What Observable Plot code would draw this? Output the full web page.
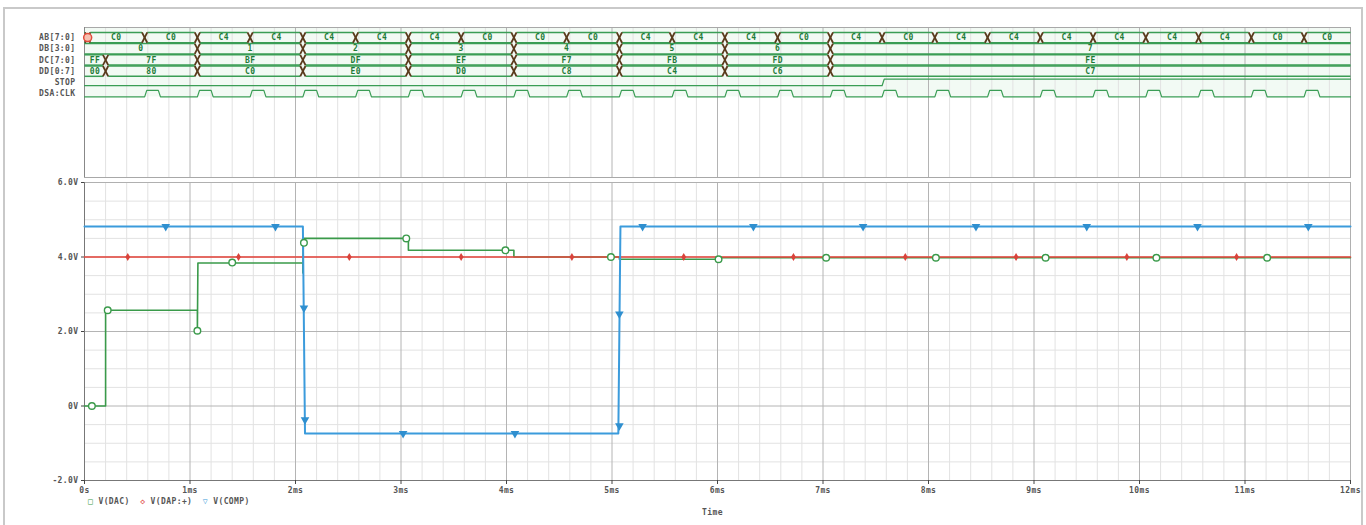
<!DOCTYPE html>
<html>
<head>
<meta charset="utf-8">
<script src="https://cdn.jsdelivr.net/npm/d3@7"></script>
<script src="https://cdn.jsdelivr.net/npm/@observablehq/plot@0.6"></script>
<style>
  html, body { margin: 0; padding: 0; background: #fff; }
  body { width: 1366px; height: 525px; overflow: hidden; position: relative; font-family: "DejaVu Sans Mono", "Liberation Mono", monospace; }
  #border { position: absolute; left: 3px; top: 7px; width: 1360px; height: 540px; border: 2px solid #c9c9c9; box-sizing: border-box; }
  #digital { position: absolute; left: 0; top: 0; }
  #analog { position: absolute; left: 0; top: 170px; }
  #legend { position: absolute; left: 88px; top: 497px; font-size: 8px; color: #555; letter-spacing: 0.4px; white-space: pre; font-weight: bold; }
  #legend .g { color: #3a9a4a; } #legend .r { color: #e0433c; } #legend .b { color: #3a9ad9; }
  #timeLabel { position: absolute; left: 702px; top: 508px; font-size: 8px; color: #555; letter-spacing: 0.4px; font-weight: bold; }
  svg text { letter-spacing: 0.4px; }
</style>
</head>
<body>
<div id="border"></div>
<div id="digital"></div>
<div id="analog"></div>
<div id="legend"><span class="g">□</span> V(DAC)  <span class="r">◇</span> V(DAP:+)  <span class="b">▽</span> V(COMP)</div>
<div id="timeLabel">Time</div>
<script>
// ---------- axis ticks ----------
const timeTicks = [0, 1, 2, 3, 4, 5, 6, 7, 8, 9, 10, 11, 12];
const timeTickLabels = ["0s", "1ms", "2ms", "3ms", "4ms", "5ms", "6ms", "7ms", "8ms", "9ms", "10ms", "11ms", "12ms"];
const voltTicks = [6, 4, 2, 0, -2];
const voltTickLabels = ["6.0V", "4.0V", "2.0V", "0V", "-2.0V"];

// ---------- digital signals ----------
const signals = ["AB[7:0]", "DB[3:0]", "DC[7:0]", "DD[0:7]", "STOP", "DSA:CLK"];

const abEdges = [0, 0.03, 0.57, 1.07, 1.57, 2.07, 2.57, 3.07, 3.57, 4.07, 4.57, 5.07, 5.57, 6.07, 6.57, 7.07, 7.56, 8.06, 8.56, 9.06, 9.56, 10.06, 10.56, 11.06, 11.56, 12];
const abValues = ["", "C0", "C0", "C4", "C4", "C4", "C4", "C4", "C0", "C0", "C0", "C4", "C4", "C4", "C0", "C4", "C0", "C4", "C4", "C4", "C4", "C4", "C4", "C0", "C0"];

const dbEdges = [0, 1.07, 2.07, 3.07, 4.07, 5.07, 6.07, 7.07, 12];
const dbValues = ["0", "1", "2", "3", "4", "5", "6", "7"];

const dcEdges = [0, 0.2, 1.07, 2.07, 3.07, 4.07, 5.07, 6.07, 7.07, 12];
const dcValues = ["FF", "7F", "BF", "DF", "EF", "F7", "FB", "FD", "FE"];

const ddEdges = [0, 0.2, 1.07, 2.07, 3.07, 4.07, 5.07, 6.07, 7.07, 12];
const ddValues = ["00", "80", "C0", "E0", "D0", "C8", "C4", "C6", "C7"];

const stopEdges = [0, 7.56, 12];
const stopLevels = [0, 1];

const clkRises = [0.57, 1.07, 1.57, 2.07, 2.57, 3.07, 3.57, 4.07, 4.57, 5.07, 5.57, 6.07, 6.57, 7.07, 7.56, 8.06, 8.56, 9.06, 9.56, 10.06, 10.56, 11.06, 11.56];
const clkHighWidth = 0.13;

// ---------- analog traces ----------
const dacTime = [0, 0.2, 0.2, 1.07, 1.07, 1.075, 2.07, 2.07, 2.075, 3.07, 3.07, 4.07, 4.07, 5.07, 5.07, 6.03, 6.03, 12];
const dacVolt = [0, 0, 2.57, 2.57, 2.02, 3.84, 3.84, 3.57, 4.5, 4.5, 4.18, 4.18, 4.0, 4.0, 3.94, 3.94, 3.98, 3.98];
const dacMarkTime = [0.07, 0.22, 1.07, 1.4, 2.08, 3.05, 3.99, 4.99, 6.01, 7.03, 8.07, 9.11, 10.16, 11.21];
const dacMarkVolt = [0, 2.57, 2.02, 3.85, 4.38, 4.5, 4.18, 4.0, 3.94, 3.98, 3.98, 3.98, 3.98, 3.98];

const inTime = [0, 12];
const inVolt = [4.0, 4.0];
const inMarkTime = [0.41, 1.46, 2.51, 3.57, 4.62, 5.68, 6.72, 7.78, 8.83, 9.88, 10.92];
const inMarkVolt = [4, 4, 4, 4, 4, 4, 4, 4, 4, 4, 4];

const compTime = [0, 2.07, 2.09, 5.06, 5.08, 12];
const compVolt = [4.82, 4.82, -0.74, -0.74, 4.82, 4.82];
const compMarkTime = [0.77, 1.81, 2.08, 2.09, 3.02, 4.08, 5.07, 5.07, 5.29, 6.34, 7.38, 8.45, 9.5, 10.55, 11.6];
const compMarkVolt = [4.82, 4.82, 2.63, -0.37, -0.74, -0.74, -0.53, 2.47, 4.82, 4.82, 4.82, 4.82, 4.82, 4.82, 4.82];

// ---------- helpers ----------
const FONT = "DejaVu Sans Mono, Liberation Mono, monospace";
const BUS_GREEN = "#3a9d55";
const TEXT_GREEN = "#1f7a38";
const X_DARK = "#5a3a1c";
const xDomain = [timeTicks[0], timeTicks[timeTicks.length - 1]];
const rowDomain = [-0.9, 12.5];
const halfBus = 0.46, xHalf = 0.025;
const lowOff = 0.3, highOff = -0.28;

function bus(name, edges, values) {
  const row = signals.indexOf(name);
  const lines = [], xs = [], labels = [];
  const n = edges.length - 1;
  for (let k = 0; k < n; k++) {
    const a = edges[k] + (k > 0 ? xHalf : 0);
    const b = edges[k + 1] - (k < n - 1 ? xHalf : 0);
    lines.push({x1: a, x2: b, y1: row - halfBus, y2: row - halfBus});
    lines.push({x1: a, x2: b, y1: row + halfBus, y2: row + halfBus});
    if (values[k]) labels.push({x: (edges[k] + edges[k + 1]) / 2, y: row, text: values[k]});
    if (k > 0) {
      xs.push({x1: edges[k] - xHalf, x2: edges[k] + xHalf, y1: row - halfBus, y2: row + halfBus});
      xs.push({x1: edges[k] - xHalf, x2: edges[k] + xHalf, y1: row + halfBus, y2: row - halfBus});
    }
  }
  return {lines, xs, labels};
}

const buses = [
  bus("AB[7:0]", abEdges, abValues),
  bus("DB[3:0]", dbEdges, dbValues),
  bus("DC[7:0]", dcEdges, dcValues),
  bus("DD[0:7]", ddEdges, ddValues)
];
const busLines = buses.flatMap(b => b.lines);
const busXs = buses.flatMap(b => b.xs);
const busLabels = buses.flatMap(b => b.labels);

const stopRow = signals.indexOf("STOP");
const stopPts = [];
for (let k = 0; k < stopEdges.length - 1; k++) {
  const yv = stopRow + (stopLevels[k] ? highOff : lowOff);
  stopPts.push({x: stopEdges[k] + (k > 0 ? 0.02 : 0), y: yv}, {x: stopEdges[k + 1], y: yv});
}

const clkRow = signals.indexOf("DSA:CLK");
const clkPts = [{x: xDomain[0], y: clkRow + lowOff}];
for (const r of clkRises) {
  clkPts.push({x: r, y: clkRow + lowOff}, {x: r + 0.02, y: clkRow + highOff},
              {x: r + clkHighWidth, y: clkRow + highOff}, {x: r + clkHighWidth + 0.02, y: clkRow + lowOff});
}
clkPts.push({x: xDomain[1], y: clkRow + lowOff});

const minorX = d3.range(0, 12.001, 0.2).filter(v => Math.abs(v - Math.round(v)) > 1e-6);
const minorY = d3.range(-2, 6.001, 0.5).filter(v => Math.abs(v / 2 - Math.round(v / 2)) > 1e-6);

// ---------- digital panel ----------
const digital = Plot.plot({
  width: 1366,
  height: 180,
  marginLeft: 84,
  marginRight: 16,
  marginTop: 27,
  marginBottom: 3,
  style: {fontFamily: FONT, fontSize: "8px", color: "#444", background: "transparent"},
  x: {domain: xDomain, axis: null},
  y: {domain: rowDomain, range: [27, 177], axis: null},
  marks: [
    Plot.rect([0], {x1: xDomain[0], x2: xDomain[1], y1: rowDomain[0], y2: clkRow + lowOff, fill: "#f2faf4"}),
    Plot.ruleX(minorX, {stroke: "#e2e2e2", strokeWidth: 1}),
    Plot.ruleX(timeTicks, {stroke: "#b4b4b4", strokeWidth: 1}),
    Plot.frame({stroke: "#a8a8a8"}),
    Plot.ruleX([xDomain[0]], {stroke: "#888"}),
    Plot.axisY({ticks: signals.map((_, i) => i), tickFormat: i => signals[i], tickSize: 0, tickPadding: 9, label: null, fontSize: 8, fill: "#555", fontWeight: "bold"}),
    Plot.link(busLines, {x1: "x1", y1: "y1", x2: "x2", y2: "y2", stroke: BUS_GREEN, strokeWidth: 1.5}),
    Plot.link(busXs, {x1: "x1", y1: "y1", x2: "x2", y2: "y2", stroke: X_DARK, strokeWidth: 1.8}),
    Plot.text(busLabels, {x: "x", y: "y", text: "text", fill: TEXT_GREEN, fontSize: 8, fontWeight: "bold"}),
    Plot.line(stopPts, {x: "x", y: "y", stroke: BUS_GREEN, strokeWidth: 1.2}),
    Plot.line(clkPts, {x: "x", y: "y", stroke: BUS_GREEN, strokeWidth: 1.2}),
    Plot.dot([abEdges[1]], {x: d => d, y: () => signals.indexOf("AB[7:0]"), r: 4, stroke: "#e04a3a", fill: "#f6c0b0", strokeWidth: 1.5})
  ]
});
document.getElementById("digital").append(digital);

// ---------- analog panel ----------
const dacData = dacTime.map((t, i) => ({t, v: dacVolt[i]}));
const inData = inTime.map((t, i) => ({t, v: inVolt[i]}));
const compData = compTime.map((t, i) => ({t, v: compVolt[i]}));
const dacMarks = dacMarkTime.map((t, i) => ({t, v: dacMarkVolt[i]}));
const inMarks = inMarkTime.map((t, i) => ({t, v: inMarkVolt[i]}));
const compMarks = compMarkTime.map((t, i) => ({t, v: compMarkVolt[i]}));

const analog = Plot.plot({
  width: 1366,
  height: 355,
  marginLeft: 84,
  marginRight: 16,
  marginTop: 12,
  marginBottom: 45,
  style: {fontFamily: FONT, fontSize: "8px", color: "#444", background: "transparent"},
  x: {domain: xDomain},
  y: {domain: [voltTicks[voltTicks.length - 1], voltTicks[0]]},
  marks: [
    Plot.ruleX(minorX, {stroke: "#e2e2e2"}),
    Plot.ruleY(minorY, {stroke: "#e2e2e2"}),
    Plot.ruleX(timeTicks, {stroke: "#b4b4b4"}),
    Plot.ruleY(voltTicks, {stroke: "#b4b4b4"}),
    Plot.frame({stroke: "#b0b0b0"}),
    Plot.ruleX([xDomain[0]], {stroke: "#777"}),
    Plot.ruleY([voltTicks[voltTicks.length - 1]], {stroke: "#777"}),
    Plot.axisX({ticks: timeTicks, tickFormat: d => timeTickLabels[timeTicks.indexOf(d)], tickSize: 4, tickPadding: 3, label: null, fill: "#555", fontWeight: "bold"}),
    Plot.axisY({ticks: voltTicks, tickFormat: d => voltTickLabels[voltTicks.indexOf(d)], tickSize: 3, tickPadding: 3, label: null, fill: "#555", fontWeight: "bold"}),
    Plot.line(dacData, {x: "t", y: "v", stroke: "#3a9a4a", strokeWidth: 1.6}),
    Plot.line(inData, {x: "t", y: "v", stroke: "#e8453d", strokeWidth: 1.5}),
    Plot.line(compData, {x: "t", y: "v", stroke: "#3b9bdc", strokeWidth: 2}),
    Plot.dot(inMarks, {x: "t", y: "v", symbol: "diamond", r: 2.5, fill: "#d9433b"}),
    Plot.dot(dacMarks, {x: "t", y: "v", symbol: "circle", r: 3.3, stroke: "#3a9a4a", fill: "#fff", strokeWidth: 1.4}),
    Plot.dot(compMarks, {x: "t", y: "v", symbol: "triangle", rotate: 180, r: 3.2, fill: "#2f8fcf"})
  ]
});
document.getElementById("analog").append(analog);
</script>
</body>
</html>
